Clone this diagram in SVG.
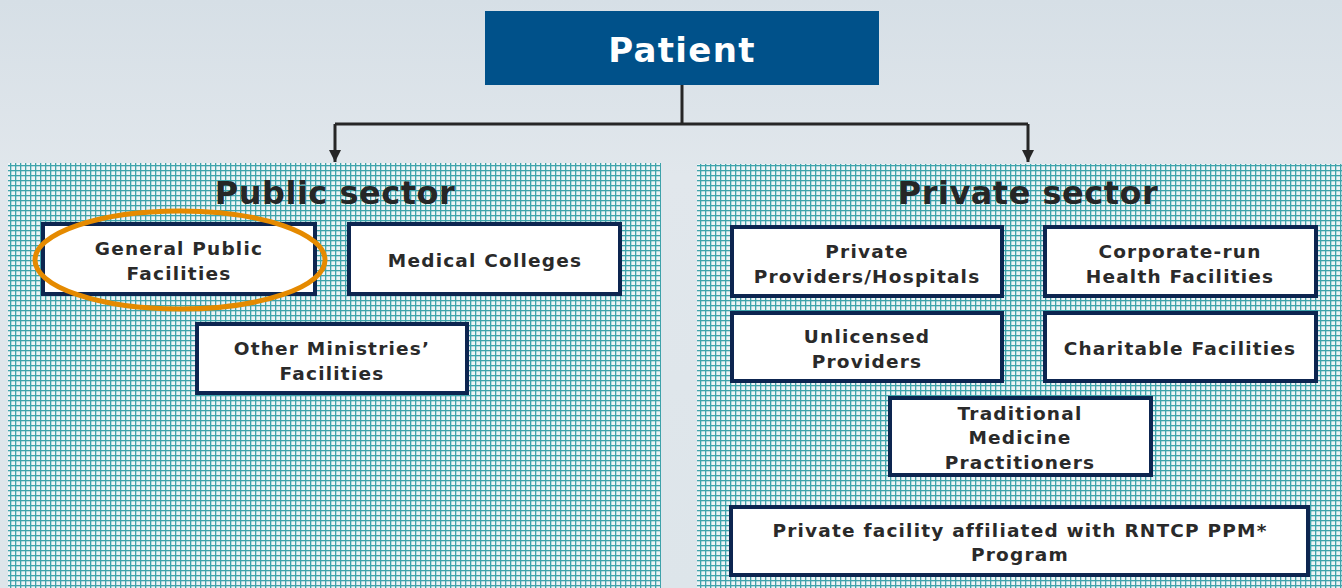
<svg xmlns="http://www.w3.org/2000/svg" width="1342" height="588" viewBox="0 0 1342 588">
<defs>
<linearGradient id="bg" x1="0" y1="0" x2="0" y2="1">
<stop offset="0" stop-color="#d6dfe6"/>
<stop offset="0.3" stop-color="#e1e7ec"/>
<stop offset="1" stop-color="#dde5ea"/>
</linearGradient>
<pattern id="grid" x="0" y="0" width="5" height="5" patternUnits="userSpaceOnUse">
<rect width="5" height="5" fill="#eef4f6"/>
<rect x="0" y="0" width="5" height="1.3" fill="#3fa3ab"/>
<rect x="0" y="0" width="1.3" height="5" fill="#3fa3ab"/>
</pattern>
<marker id="arr" viewBox="0 0 10 10" refX="10" refY="5" markerWidth="4" markerHeight="4" orient="auto" markerUnits="strokeWidth">
<path d="M0,0 L10,5 L0,10 z" fill="#262626"/>
</marker>
<style>
.box{fill:#ffffff;stroke:#0d2550;stroke-width:4}
.t{font-family:"DejaVu Sans","Verdana",sans-serif;font-weight:bold;font-size:18.5px;letter-spacing:1.2px;fill:#2a2a2a;text-anchor:middle}
.h{font-family:"DejaVu Sans","Verdana",sans-serif;font-weight:bold;font-size:32px;letter-spacing:0.5px;fill:#262626;text-anchor:middle}
.conn{fill:none;stroke:#262626;stroke-width:3}
</style>
</defs>
<rect width="1342" height="588" fill="url(#bg)"/>
<g id="public-panel">
<rect x="8" y="163" width="653" height="425" fill="url(#grid)"/>
<text class="h" x="335" y="204">Public sector</text>
</g>
<g id="private-panel">
<rect x="697" y="164" width="645" height="424" fill="url(#grid)"/>
<text class="h" x="1028" y="204">Private sector</text>
</g>
<g id="connectors">
<path class="conn" d="M682,85 V124"/>
<path class="conn" d="M335,124 H1028"/>
<path class="conn" d="M335,124 V162" marker-end="url(#arr)"/>
<path class="conn" d="M1028,124 V162" marker-end="url(#arr)"/>
</g>
<g id="patient">
<rect x="485" y="11" width="394" height="74" fill="#00518a"/>
<text x="682" y="62" text-anchor="middle" font-family="DejaVu Sans, Verdana, sans-serif" font-weight="bold" font-size="34" letter-spacing="1.3" fill="#ffffff">Patient</text>
</g>
<g id="general-public">
<rect class="box" x="43" y="224" width="272" height="70"/>
<text class="t" x="179" y="255">General Public</text>
<text class="t" x="179" y="280">Facilities</text>
</g>
<g id="medical-colleges">
<rect class="box" x="349" y="224" width="271" height="70"/>
<text class="t" x="485" y="267">Medical Colleges</text>
</g>
<g id="other-ministries">
<rect class="box" x="197" y="324" width="270" height="69"/>
<text class="t" x="332" y="355">Other Ministries’</text>
<text class="t" x="332" y="380">Facilities</text>
</g>
<g id="private-providers">
<rect class="box" x="732" y="227" width="270" height="69"/>
<text class="t" x="867" y="258">Private</text>
<text class="t" x="867" y="283">Providers/Hospitals</text>
</g>
<g id="corporate-run">
<rect class="box" x="1045" y="227" width="271" height="69"/>
<text class="t" x="1180" y="258">Corporate-run</text>
<text class="t" x="1180" y="283">Health Facilities</text>
</g>
<g id="unlicensed">
<rect class="box" x="732" y="313" width="270" height="68"/>
<text class="t" x="867" y="343">Unlicensed</text>
<text class="t" x="867" y="368">Providers</text>
</g>
<g id="charitable">
<rect class="box" x="1045" y="313" width="271" height="68"/>
<text class="t" x="1180" y="355">Charitable Facilities</text>
</g>
<g id="traditional">
<rect class="box" x="890" y="398" width="261" height="77"/>
<text class="t" x="1020" y="420">Traditional</text>
<text class="t" x="1020" y="444">Medicine</text>
<text class="t" x="1020" y="469">Practitioners</text>
</g>
<g id="rntcp">
<rect class="box" x="731" y="507" width="577" height="68"/>
<text class="t" x="1020" y="537">Private facility affiliated with RNTCP PPM*</text>
<text class="t" x="1020" y="561">Program</text>
</g>
<ellipse id="highlight" cx="180" cy="260" rx="145" ry="49" fill="none" stroke="#e58a00" stroke-width="5"/>
</svg>
